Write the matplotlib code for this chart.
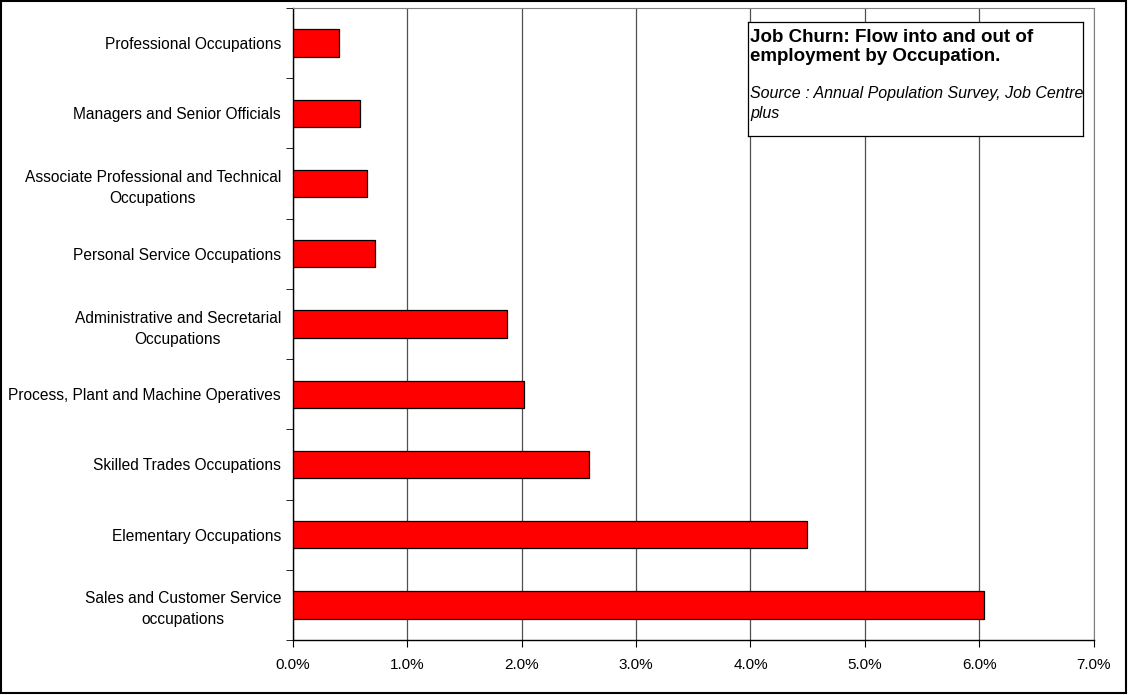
import matplotlib
matplotlib.use("Agg")
import matplotlib.pyplot as plt
from matplotlib.ticker import FuncFormatter, MultipleLocator
from matplotlib.patches import Rectangle

plt.rcParams['font.family'] = ['Liberation Sans', 'DejaVu Sans']

# top to bottom as drawn
categories = [
    "Professional Occupations",
    "Managers and Senior Officials",
    "Associate Professional and Technical\nOccupations",
    "Personal Service Occupations",
    "Administrative and Secretarial\nOccupations",
    "Process, Plant and Machine Operatives",
    "Skilled Trades Occupations",
    "Elementary Occupations",
    "Sales and Customer Service\noccupations",
]
churn = [0.0040, 0.0059, 0.0065, 0.0072, 0.0187, 0.0202, 0.0259, 0.0449, 0.0604]

fig = plt.figure(figsize=(11.31, 6.95), dpi=100)
ax = fig.add_axes([0.259, 0.0791, 0.708, 0.9094])

# outer border of the chart
fig.patches.append(Rectangle((0.001, 0.003), 0.9945, 0.9955, transform=fig.transFigure,
                             fill=False, edgecolor='black', linewidth=1.5))

n = len(categories)
ypos = list(range(n - 1, -1, -1))
ax.barh(ypos, churn, height=0.39, color='#ff0000', edgecolor='black', linewidth=0.9, zorder=3)

ax.set_xlim(0, 0.07)
ax.set_ylim(-0.5, n - 0.5)
ax.xaxis.set_major_locator(MultipleLocator(0.01))
ax.xaxis.set_major_formatter(FuncFormatter(lambda v, p: f"{v*100:.1f}%"))
ax.grid(axis='x', color='#505050', linewidth=0.9, zorder=0)

ax.set_yticks(ypos)
ax.set_yticklabels(categories, fontsize=11.2, ha='right', multialignment='center',
                   linespacing=1.5)
ax.tick_params(axis='y', length=0, pad=8.5)
# category separator ticks
ax.set_yticks([i - 0.5 for i in range(n + 1)], minor=True)
ax.tick_params(axis='y', which='minor', length=5, direction='out', color='black')
ax.tick_params(axis='x', length=5, direction='out', labelsize=11, pad=8)

for s in ('top', 'right'):
    ax.spines[s].set_color('#808080')
for s in ('left', 'bottom'):
    ax.spines[s].set_color('black')
    ax.spines[s].set_linewidth(1.0)

# annotation box
box_ax = fig.add_axes([748 / 1131, 1 - 136 / 695, (1083 - 748) / 1131, (136 - 22) / 695])
box_ax.set_xticks([])
box_ax.set_yticks([])
box_ax.set_facecolor('white')
for s in box_ax.spines.values():
    s.set_color('black')
    s.set_linewidth(0.9)
box_ax.text(0.006, 0.94, "Job Churn: Flow into and out of\nemployment by Occupation.",
            fontsize=13.5, fontweight='bold', va='top', ha='left', linespacing=1.2,
            transform=box_ax.transAxes)
box_ax.text(0.006, 0.44, "Source : Annual Population Survey, Job Centre\nplus",
            fontsize=11.5, style='italic', va='top', ha='left', linespacing=1.45,
            transform=box_ax.transAxes)

fig.savefig("out.png", dpi=100)
